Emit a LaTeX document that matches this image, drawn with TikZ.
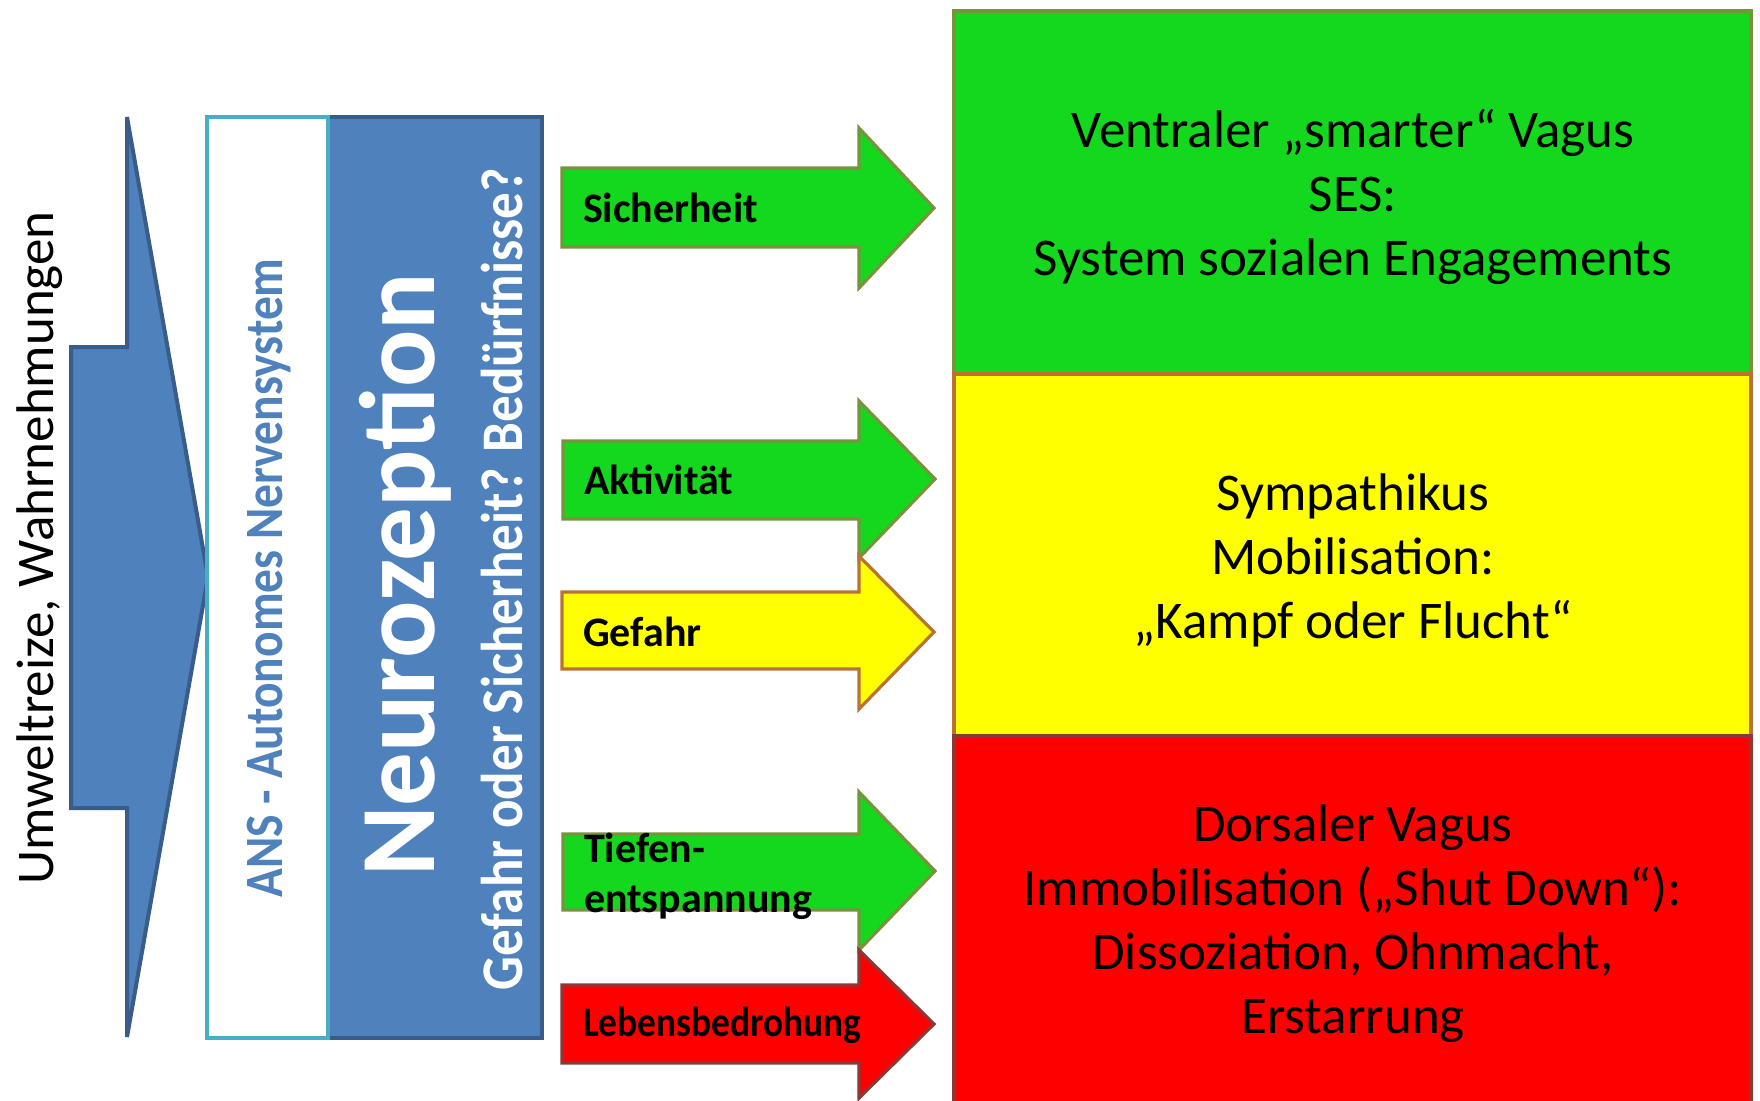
\documentclass[tikz,border=0pt]{standalone}
\usepackage{fontspec}
\setmainfont{Carlito}
\usepackage{tikz}

\definecolor{ansblue}{HTML}{4F81BD}
\definecolor{ansdark}{HTML}{385D8A}
\definecolor{anscyan}{HTML}{4BACC6}
\definecolor{okgreen}{HTML}{14D81E}
\definecolor{okolive}{HTML}{77933C}
\definecolor{warnyellow}{HTML}{FFFF00}
\definecolor{warnbrown}{HTML}{B87333}
\definecolor{dangerred}{HTML}{FF0000}
\definecolor{dangerdark}{HTML}{8C3836}

\tikzset{
  inarrow/.style={fill=ansblue, draw=ansdark, line width=2pt, line join=miter},
  greenblock/.style={fill=okgreen, draw=okolive, line width=1.6pt, line join=miter},
  yellowblock/.style={fill=warnyellow, draw=warnbrown, line width=1.6pt, line join=miter},
  redblock/.style={fill=dangerred, draw=dangerdark, line width=1.6pt, line join=miter},
  boxtext/.style={align=center, font=\fontsize{26.5}{32}\selectfont},
  arrowlbl/.style={anchor=west, align=left, font=\fontsize{21}{25}\selectfont\bfseries}
}

\begin{document}
\begin{tikzpicture}[x=0.5pt,y=-0.5pt]
            \useasboundingbox (0,0) rectangle (1760,1100);
            % input arrow and ANS blocks
            \draw[inarrow] (71,347) -- (127,347) -- (127,117) -- (208,577) -- (127,1037) -- (127,808) -- (71,808) -- cycle;
            \draw[fill=ansblue, draw=ansdark, line width=2pt] (328,117) rectangle (542,1038);
            \draw[fill=white, draw=anscyan, line width=2pt] (207,117) rectangle (328,1038);
            \node[rotate=90, font=\fontsize{26.5}{32}\selectfont] (umwelt) at (40,548) {Umweltreize, Wahrnehmungen};
            \node[rotate=90, text=ansblue, font=\fontsize{27}{32}\selectfont\bfseries] (ans) at (269,578) {\scalebox{0.88}[1]{ANS - Autonomes Nervensystem}};
            \node[rotate=90, text=white, font=\fontsize{53.5}{60}\selectfont\bfseries] (neuro) at (405,575) {Neurozeption};
            \node[rotate=90, text=white, font=\fontsize{29.5}{34}\selectfont\bfseries] (frage) at (502,579) {\scalebox{0.9}[1]{Gefahr oder Sicherheit? Bedürfnisse?}};

            % three states
            \draw[greenblock, line width=2pt] (954,11) rectangle (1751,374);
            \draw[yellowblock, line width=2pt] (954,374) rectangle (1751,736);
            \draw[redblock, line width=2pt] (954,736) rectangle (1751,1106);
            \node[boxtext] (ventral) at (1353,197) {Ventraler „smarter“ Vagus\\SES:\\System sozialen Engagements};
            \node[boxtext] (sympath) at (1353,560) {Sympathikus\\Mobilisation:\\„Kampf oder Flucht“};
            \node[boxtext] (dorsal) at (1353,924) {Dorsaler Vagus\\Immobilisation („Shut Down“):\\Dissoziation, Ohnmacht,\\Erstarrung};

            % signal arrows
            \draw[greenblock] (562,168) -- (859,168) -- (859,128) -- (934,208) -- (859,288) -- (859,247) -- (562,247) -- cycle;
            \node[arrowlbl] (sicher) at (576,208) {Sicherheit};
            \draw[greenblock] (563,441) -- (859,441) -- (859,401) -- (935,479) -- (859,558) -- (859,519) -- (563,519) -- cycle;
            \node[arrowlbl] (aktiv) at (577,480) {Aktivität};
            \draw[yellowblock] (562,592) -- (859,592) -- (859,556) -- (934,632) -- (859,709) -- (859,669) -- (562,669) -- cycle;
            \node[arrowlbl] (gefahr) at (576,632) {Gefahr};
            \draw[greenblock] (563,834) -- (859,834) -- (859,792) -- (935,871) -- (859,950) -- (859,910) -- (563,910) -- cycle;
            \node[arrowlbl] (tiefen) at (577,876) {Tiefen-\\entspannung};
            \draw[redblock] (562,985) -- (859,985) -- (859,950) -- (934,1024) -- (859,1098) -- (859,1063) -- (562,1063) -- cycle;
            \node[arrowlbl] (leben) at (576,1025) {\scalebox{0.89}[1]{Lebensbedrohung}};
        \end{tikzpicture}
\end{document}
